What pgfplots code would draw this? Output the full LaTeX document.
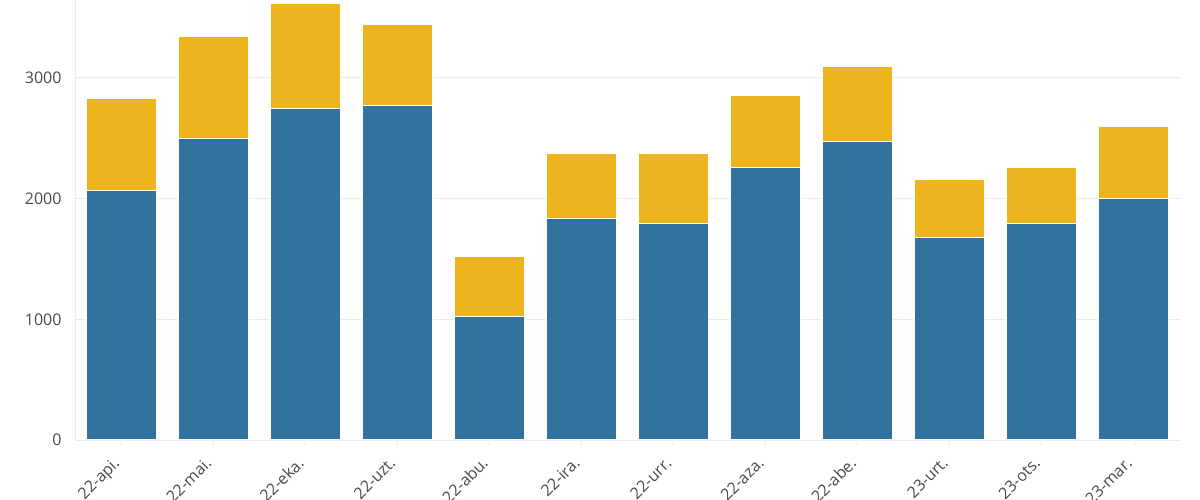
\documentclass[border=0pt]{standalone}
\usepackage{pgfplots}
\pgfplotsset{compat=1.18}
\usepackage{fontspec}
\setmainfont{Open Sans}
\definecolor{cblue}{HTML}{31739E}
\definecolor{cyel}{HTML}{EDB41F}
\definecolor{gridc}{HTML}{EBEBEB}
\definecolor{txt}{HTML}{4A4A4A}
\begin{document}
\begin{tikzpicture}
\useasboundingbox (-75pt,-60pt) rectangle (1125pt,440pt);
\clip (-75pt,-60pt) rectangle (1125pt,440pt);
\begin{axis}[
  at={(0,0)}, anchor=south west, scale only axis,
  width=1105pt, height=440pt,
  xmin=-0.5, xmax=11.5, ymin=0, ymax=3645,
  ybar stacked, bar width=70pt,
  axis x line*=bottom, axis y line*=left,
  axis line style={gridc, line width=0.8pt},
  ytick={0,1000,2000,3000},
  ymajorgrids, grid style={gridc, line width=0.8pt},
  xtick={0,...,11},
  xticklabels={22-api.,22-mai.,22-eka.,22-uzt.,22-abu.,22-ira.,22-urr.,22-aza.,22-abe.,23-urt.,23-ots.,23-mar.},
  x tick style={gridc, line width=0.8pt},
  xtick align=outside, major tick length=6pt,
  y tick style={draw=none},
  /pgf/number format/assume math mode=true,
  /pgf/number format/1000 sep={},
  yticklabel style={font=\fontsize{16}{16}\selectfont, text=txt, xshift=-10pt},
  xticklabel style={font=\fontsize{16}{16}\selectfont, text=txt, xshift=-9pt, yshift=-7pt, rotate=45, anchor=north east, inner sep=2pt},
]
\addplot[fill=cblue, draw=white, line width=1pt] coordinates {
(0,2065) (1,2494) (2,2748) (3,2767) (4,1027) (5,1837) (6,1792) (7,2256) (8,2471) (9,1676) (10,1790) (11,1999)};
\addplot[fill=cyel, draw=white, line width=1pt] coordinates {
(0,760) (1,847) (2,870) (3,671) (4,497) (5,533) (6,583) (7,594) (8,622) (9,478) (10,469) (11,597)};
\end{axis}
\end{tikzpicture}
\end{document}
